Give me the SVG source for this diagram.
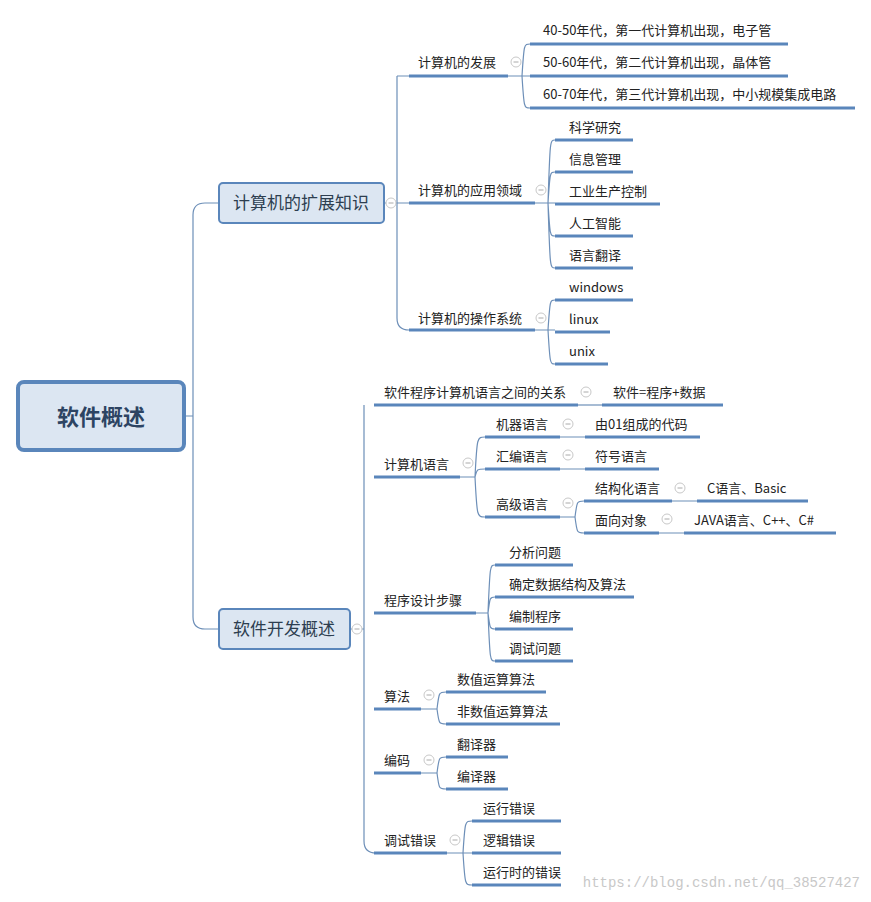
<svg xmlns="http://www.w3.org/2000/svg" width="871" height="902" viewBox="0 0 871 902">
<style>
text{font-family:"Noto Sans CJK SC","Liberation Sans",sans-serif;font-size:13px;fill:#222}
.u{stroke:#5a86bb;stroke-width:3;fill:none}
.c{stroke:#6d8fb8;stroke-width:1.2;fill:none}
.m{font-size:17px;fill:#2d3e50}
.box{fill:#dce6f2;stroke:#5a86bb;stroke-width:2}
</style>
<defs>
<g id="ic"><circle r="5" fill="#fff" stroke="#c8c8c8"/><path d="M-2.5 0H2.5" stroke="#aaa" stroke-width="1"/></g>
</defs>
<rect width="871" height="902" fill="#fff"/>
<g id="connectors">
<path class="c" d="M185 416H193M219 203H205Q193 203 193 215V617Q193 629 205 629H219"/>
<path class="c" d="M384 203H397M397 76V318Q397 330 409 330M397 76Q397 76 409 76M397 203H409"/>
<path class="c" d="M508 76H522M522 76C524 44 524 44 530 44M522 76H530M522 76C524 108 524 108 530 108"/>
<path class="c" d="M535 203H548M548 203C550 140 550 140 555 140M548 203C550 172 550 172 555 172M548 203H555M548 203C550 236 550 236 555 236M548 203C550 268 550 268 555 268"/>
<path class="c" d="M535 330H548M548 330C550 300 550 300 555 300M548 330H555M548 330C550 364 550 364 555 364"/>
<path class="c" d="M350 629H364M364 405V841Q364 853 376 853"/>
<path class="c" d="M578 405H602"/>
<path class="c" d="M460 477H475M475 477C477 437 477 437 485 437M475 477C477 469 477 469 485 469M475 477C477 517 477 517 485 517"/>
<path class="c" d="M560 437H585M560 469H585M560 517H575M575 517C577 501 577 501 584 501M575 517C577 533 577 533 584 533M672 501H697M659 533H684"/>
<path class="c" d="M476 613H488M488 613C490 565 490 565 495 565M488 613C490 597 490 597 495 597M488 613C490 629 490 629 495 629M488 613C490 661 490 661 495 661"/>
<path class="c" d="M421 709H437M437 709C439 692 439 692 446 692M437 709C439 724 439 724 446 724"/>
<path class="c" d="M421 773H437M437 773C439 757 439 757 446 757M437 773C439 789 439 789 446 789"/>
<path class="c" d="M447 853H463M463 853C465 821 465 821 472 821M463 853H472M463 853C465 885 465 885 472 885"/>
</g>
<g id="root"><rect x="18" y="382" width="166" height="68" rx="6" fill="#dce6f2" stroke="#5a86bb" stroke-width="4"/><text x="101" y="425" text-anchor="middle" style="font-size:22px;font-weight:bold;fill:#2d4463">软件概述</text></g>
<g id="b1"><rect class="box" x="219" y="183" width="165" height="40" rx="4"/><text class="m" x="301" y="209" text-anchor="middle">计算机的扩展知识</text><use href="#ic" x="391" y="203"/></g>
<g id="b2"><rect class="box" x="219" y="609" width="131" height="40" rx="4"/><text class="m" x="284" y="635" text-anchor="middle">软件开发概述</text><use href="#ic" x="357" y="629"/></g>

<g id="n_fz"><path class="u" d="M409 76H508"/><text x="418" y="67">计算机的发展</text><use href="#ic" x="516" y="62"/></g>
<g id="n_40"><path class="u" d="M530 44H788"/><text x="543" y="35">40-50年代，第一代计算机出现，电子管</text></g>
<g id="n_50"><path class="u" d="M530 76H788"/><text x="543" y="67">50-60年代，第二代计算机出现，晶体管</text></g>
<g id="n_60"><path class="u" d="M530 108H855"/><text x="543" y="99">60-70年代，第三代计算机出现，中小规模集成电路</text></g>

<g id="n_yy"><path class="u" d="M409 203H535"/><text x="418" y="195">计算机的应用领域</text><use href="#ic" x="541" y="190"/></g>
<g id="n_kx"><path class="u" d="M555 140H633"/><text x="569" y="132">科学研究</text></g>
<g id="n_xx"><path class="u" d="M555 172H633"/><text x="569" y="164">信息管理</text></g>
<g id="n_gy"><path class="u" d="M555 204H660"/><text x="569" y="196">工业生产控制</text></g>
<g id="n_rg"><path class="u" d="M555 236H633"/><text x="569" y="228">人工智能</text></g>
<g id="n_fy"><path class="u" d="M555 268H633"/><text x="569" y="260">语言翻译</text></g>

<g id="n_cz"><path class="u" d="M409 330H535"/><text x="418" y="323">计算机的操作系统</text><use href="#ic" x="541" y="318"/></g>
<g id="n_win"><path class="u" d="M555 300H633"/><text x="569" y="292">windows</text></g>
<g id="n_lin"><path class="u" d="M555 332H610"/><text x="569" y="324">linux</text></g>
<g id="n_unix"><path class="u" d="M555 364H608"/><text x="569" y="356">unix</text></g>

<g id="n_gx"><path class="u" d="M374 405H578"/><text x="384" y="397">软件程序计算机语言之间的关系</text><use href="#ic" x="586" y="392"/></g>
<g id="n_rj"><path class="u" d="M602 405H723"/><text x="613" y="397">软件=程序+数据</text></g>

<g id="n_yy2"><path class="u" d="M374 477H460"/><text x="384" y="469">计算机语言</text><use href="#ic" x="468" y="463"/></g>
<g id="n_jq"><path class="u" d="M485 437H560"/><text x="496" y="429">机器语言</text><use href="#ic" x="568" y="424"/></g>
<g id="n_01"><path class="u" d="M585 437H700"/><text x="595" y="429">由01组成的代码</text></g>
<g id="n_hb"><path class="u" d="M485 469H560"/><text x="496" y="461">汇编语言</text><use href="#ic" x="568" y="455"/></g>
<g id="n_fh"><path class="u" d="M585 469H659"/><text x="595" y="461">符号语言</text></g>
<g id="n_gj"><path class="u" d="M485 517H560"/><text x="496" y="509">高级语言</text><use href="#ic" x="568" y="503"/></g>
<g id="n_jg"><path class="u" d="M584 501H672"/><text x="595" y="493">结构化语言</text><use href="#ic" x="680" y="488"/></g>
<g id="n_c"><path class="u" d="M697 501H808"/><text x="707" y="493">C语言、Basic</text></g>
<g id="n_mx"><path class="u" d="M584 533H659"/><text x="595" y="525">面向对象</text><use href="#ic" x="667" y="519"/></g>
<g id="n_java"><path class="u" d="M684 533H836"/><text x="694" y="525">JAVA语言、C++、C#</text></g>

<g id="n_bz"><path class="u" d="M374 613H476"/><text x="384" y="605">程序设计步骤</text></g>
<g id="n_fx"><path class="u" d="M495 565H573"/><text x="509" y="557">分析问题</text></g>
<g id="n_qd"><path class="u" d="M495 597H634"/><text x="509" y="589">确定数据结构及算法</text></g>
<g id="n_bzcx"><path class="u" d="M495 629H573"/><text x="509" y="621">编制程序</text></g>
<g id="n_ts"><path class="u" d="M495 661H573"/><text x="509" y="653">调试问题</text></g>

<g id="n_sf"><path class="u" d="M374 709H421"/><text x="384" y="701">算法</text><use href="#ic" x="429" y="695"/></g>
<g id="n_sz"><path class="u" d="M446 692H546"/><text x="457" y="684">数值运算算法</text></g>
<g id="n_fsz"><path class="u" d="M446 724H560"/><text x="457" y="716">非数值运算算法</text></g>

<g id="n_bm"><path class="u" d="M374 773H421"/><text x="384" y="765">编码</text><use href="#ic" x="429" y="760"/></g>
<g id="n_fyq"><path class="u" d="M446 757H508"/><text x="457" y="749">翻译器</text></g>
<g id="n_byq"><path class="u" d="M446 789H508"/><text x="457" y="781">编译器</text></g>

<g id="n_cw"><path class="u" d="M374 853H447"/><text x="384" y="845">调试错误</text><use href="#ic" x="455" y="840"/></g>
<g id="n_yx"><path class="u" d="M472 821H561"/><text x="483" y="813">运行错误</text></g>
<g id="n_lj"><path class="u" d="M472 853H561"/><text x="483" y="845">逻辑错误</text></g>
<g id="n_yxs"><path class="u" d="M472 885H561"/><text x="483" y="877">运行时的错误</text></g>
<text x="860" y="887" text-anchor="end" style="font-family:'Liberation Mono',monospace;font-size:14px;fill:#c8c8c8">https://blog.csdn.net/qq_38527427</text>
</svg>
